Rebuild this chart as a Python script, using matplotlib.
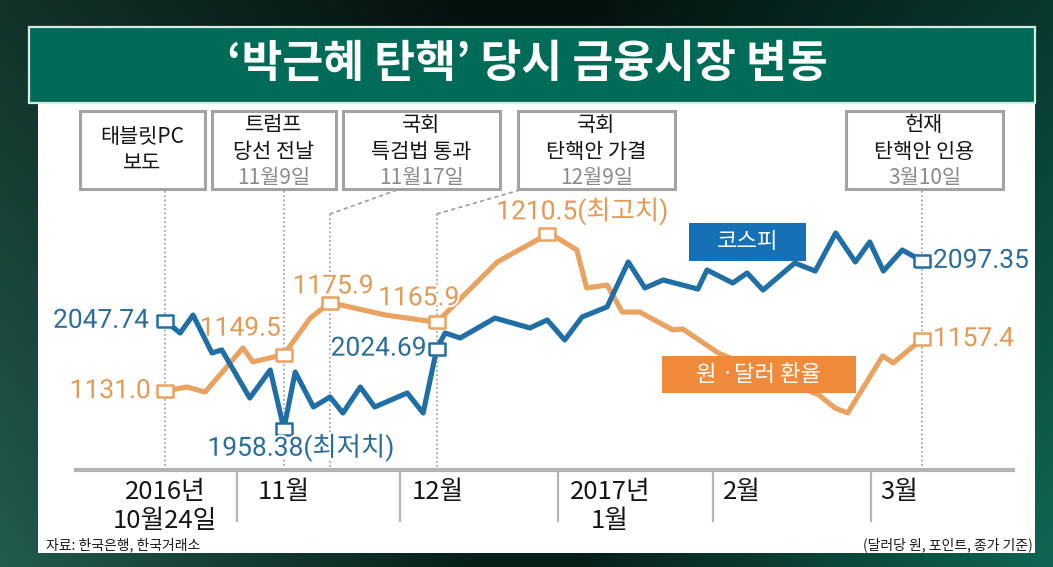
import numpy as np
import matplotlib
matplotlib.use("Agg")
import matplotlib.pyplot as plt
from matplotlib.patches import Rectangle
from matplotlib.transforms import blended_transform_factory
import matplotlib.patheffects as pe

plt.rcParams['font.family'] = ['Noto Sans CJK KR', 'DejaVu Sans']

# ---------------- data (x: position along the timeline, 0 = 2016-10-24, 100 = 2017-03-10) ----------------
kospi_x = [0, 2.0, 3.7, 6.2, 7.5, 11.2, 13.9, 15.7, 17.2, 19.6,
           21.8, 23.5, 25.8, 27.7, 32.0, 34.1, 35.9, 37.0, 39.0, 43.6,
           48.2, 50.5, 52.8, 55.1, 58.4, 61.2, 63.4, 65.8, 70.4, 71.6,
           75.0, 76.9, 79.0, 83.2, 85.9, 88.6, 91.2, 93.1, 94.9, 97.4, 100]
kospi_v = [2047.74, 2037.6, 2052.5, 2021.1, 2023.6, 1983.8, 2007.0, 1958.38, 2005.3, 1976.4,
           1984.7, 1971.4, 1992.9, 1976.4, 1988.0, 1971.4, 2024.69, 2037.6, 2033.5, 2050.0,
           2041.8, 2048.4, 2031.8, 2050.9, 2059.2, 2096.4, 2074.9, 2081.5, 2074.0, 2089.8,
           2079.0, 2087.3, 2073.2, 2095.6, 2088.9, 2120.4, 2096.4, 2113.0, 2088.9, 2106.3, 2097.35]
kospi_marks = [0, 7, 16, 40]
kospi_notes = ["", "(최저치)", "", ""]

fx_x = [0, 2.9, 5.3, 10.3, 11.6, 15.7, 19.2, 21.8, 29.1, 35.9,
        43.9, 50.5, 51.8, 54.4, 55.7, 58.4, 60.4, 62.7, 67.1, 68.4,
        73.1, 86.4, 88.5, 90.2, 94.8, 96.2, 100]
fx_v = [1131.0, 1133.1, 1130.5, 1152.9, 1145.8, 1149.5, 1168.1, 1175.9, 1169.6, 1165.9,
        1196.5, 1210.5, 1208.7, 1202.6, 1183.3, 1184.8, 1171.1, 1171.1, 1162.0, 1162.5,
        1150.3, 1129.0, 1122.4, 1119.9, 1148.8, 1145.3, 1157.4]
fx_marks = [0, 5, 7, 9, 11, 26]
fx_notes = ["", "", "", "", "(최고치)", ""]

event_x = [0, 15.7, 21.8, 35.9, 100]
event_titles = ["태블릿PC\n보도", "트럼프\n당선 전날", "국회\n특검법 통과", "국회\n탄핵안 가결", "헌재\n탄핵안 인용"]
event_dates = ["", "11월9일", "11월17일", "12월9일", "3월10일"]

month_bounds = [9.5, 31.0, 51.9, 72.4, 93.3]
month_label_x = [0, 15.7, 36.1, 58.8, 76.2, 97.0]
month_labels = ["2016년\n10월24일", "11월", "12월", "2017년\n1월", "2월", "3월"]

title = "‘박근혜 탄핵’ 당시 금융시장 변동"
source = "자료: 한국은행, 한국거래소"
unit_note = "(달러당 원, 포인트, 종가 기준)"

# ---------------- styles ----------------
W, H = 1053, 567
KOSPI_C = '#1f6ea6'
KOSPI_T = '#2a6d98'
FX_C = '#e9a25f'
FX_T = '#e29a55'
GRAY = '#a3a3a3'
NUMFONT = ['Roboto', 'Noto Sans CJK KR']

fig = plt.figure(figsize=(W / 100, H / 100), dpi=100)

# background / decoration axes in pixel coordinates
bg = fig.add_axes([0, 0, 1, 1])
bg.set_xlim(0, W)
bg.set_ylim(H, 0)
bg.axis('off')

gx = np.linspace(0, 1, 300)
gy = np.linspace(0, 1, 160)
left_c = np.array([0.13, 0.36, 0.30])
mid_c = np.array([0.03, 0.12, 0.10])
right_c = np.array([0.06, 0.40, 0.33])
wl = np.clip(1 - gx / 0.45, 0, 1)[:, None]
wr = np.clip((gx - 0.55) / 0.45, 0, 1)[:, None]
wm = 1 - wl - wr
row = wl * left_c + wm * mid_c + wr * right_c
vert = (0.55 + 0.45 * gy)[:, None, None]
img = np.clip(row[None, :, :] * vert, 0, 1)
bg.imshow(img, extent=(0, W, H, 0), aspect='auto', zorder=0, interpolation='bilinear')

bg.add_patch(Rectangle((38, 103), 997, 450, fc='white', ec='none', zorder=1))
bg.add_patch(Rectangle((29, 27), 1006, 76, fc='#006b56', ec='#d5ece2', lw=1.6, zorder=2))
bg.text(527, 64, title, color='white', fontsize=32, fontweight='heavy',
        ha='center', va='center', zorder=3)

# data axes (FX below, KOSPI on top)
ax = fig.add_axes([0, 0, 1, 1])
ax.patch.set_visible(False)
ax.axis('off')
ax.set_xlim(-21.80, 117.31)
ax.set_ylim(1041.78, 1329.36)
ax2 = ax.twinx()
ax2.patch.set_visible(False)
ax2.axis('off')
ax2.set_ylim(1843.94, 2313.25)

tr = blended_transform_factory(ax.transData, bg.transData)

# event boxes and connector lines
box_left = [80, 212, 343, 518, 846]
box_right = [205, 336, 500, 675, 1003]
conn_start = [None, None, 397, 520, None]
BOX_TOP, BOX_BOT, AXIS_Y = 111, 189, 470
for i in range(len(event_x)):
    l, r = box_left[i], box_right[i]
    bg.add_patch(Rectangle((l, BOX_TOP), r - l, BOX_BOT - BOX_TOP, fc='white',
                           ec=GRAY, lw=2.2, zorder=3))
    cx = (l + r) / 2
    lines = event_titles[i].split('\n')
    if event_dates[i]:
        ys = [125, 152]
        bg.text(cx, 178, event_dates[i], color='#8a8a8a', fontsize=15,
                ha='center', va='center', zorder=4)
    else:
        ys = [137, 163]
    for t, yy in zip(lines, ys):
        bg.text(cx, yy, t, color='#151515', fontsize=15, fontweight='medium',
                ha='center', va='center', zorder=4)
    if conn_start[i] is None:
        bg.plot([event_x[i], event_x[i]], [BOX_BOT + 2, AXIS_Y - 2], transform=tr,
                color='#9a9a9a', lw=1.2, ls=(0, (1, 1.6)), zorder=2)
    else:
        bg.plot([event_x[i], event_x[i]], [214, AXIS_Y - 2], transform=tr,
                color='#9a9a9a', lw=1.2, ls=(0, (1, 1.6)), zorder=2)
        x0 = ax.transData.inverted().transform(
            (bg.transData.transform((conn_start[i], 0))[0], 0))[0]
        bg.plot([x0, event_x[i]], [BOX_BOT + 1, 214], transform=tr,
                color='#9a9a9a', lw=1.2, ls=(0, (2.5, 2)), zorder=2)

# timeline axis
bg.plot([74, 1015], [AXIS_Y, AXIS_Y], color='#b3b3b3', lw=3, solid_capstyle='butt', zorder=2)
for mb in month_bounds:
    bg.plot([mb, mb], [AXIS_Y, 521], transform=tr, color='#b5b5b5', lw=1.6, zorder=2)
for mx, ml in zip(month_label_x, month_labels):
    for j, part in enumerate(ml.split('\n')):
        bg.text(mx, 492 + 29 * j, part, transform=tr, color='#151515', fontsize=18.5,
                fontweight='medium', ha='center', va='center', zorder=3)

bg.text(46, 545, source, color='#1a1a1a', fontsize=10, ha='left', va='center', zorder=3)
bg.text(1033, 545, unit_note, color='#1a1a1a', fontsize=10, ha='right', va='center', zorder=3)

# lines
rect_marker = [(-1.5, -1), (1.5, -1), (1.5, 1), (-1.5, 1), (-1.5, -1)]
ax.plot(fx_x, fx_v, color=FX_C, lw=3.7, solid_joinstyle='round', solid_capstyle='round', zorder=3)
ax.plot([fx_x[i] for i in fx_marks], [fx_v[i] for i in fx_marks], ls='none',
        marker=rect_marker, ms=12, mfc='white', mec=FX_C, mew=1.8, zorder=4)
ax2.plot(kospi_x, kospi_v, color=KOSPI_C, lw=3.7, solid_joinstyle='round', solid_capstyle='round', zorder=3)
ax2.plot([kospi_x[i] for i in kospi_marks], [kospi_v[i] for i in kospi_marks], ls='none',
         marker=rect_marker, ms=12, mfc='white', mec=KOSPI_C, mew=1.8, zorder=4)

halo = [pe.withStroke(linewidth=3, foreground='white')]
kospi_off = [(-16, 0, 'right'), (17, -19, 'center'), (-10, 0, 'right'), (11, 0, 'left')]
for i, note, (dx, dy, ha) in zip(kospi_marks, kospi_notes, kospi_off):
    ax2.annotate(f"{kospi_v[i]:.2f}{note}", xy=(kospi_x[i], kospi_v[i]), xytext=(dx, dy),
                 textcoords='offset pixels', ha=ha, va='center', fontsize=19,
                 color=KOSPI_T, family=NUMFONT, path_effects=halo, zorder=5)
fx_off = [(-14, 0, 'right'), (-3, 26, 'right'), (3, 16, 'center'),
          (-18, 24, 'center'), (35, 23, 'center'), (11, 0, 'left')]
for i, note, (dx, dy, ha) in zip(fx_marks, fx_notes, fx_off):
    ax.annotate(f"{fx_v[i]:.1f}{note}", xy=(fx_x[i], fx_v[i]), xytext=(dx, dy),
                textcoords='offset pixels', ha=ha, va='center', fontsize=19,
                color=FX_T, family=NUMFONT, path_effects=halo, zorder=5)

# legend-like label boxes on top
top = fig.add_axes([0, 0, 1, 1])
top.set_xlim(0, W)
top.set_ylim(H, 0)
top.axis('off')
top.patch.set_visible(False)
top.add_patch(Rectangle((689, 223), 117, 38, fc='#1570b5', ec='none'))
top.text(747.5, 242, "코스피", color='white', fontsize=16, fontweight='medium', ha='center', va='center')
top.add_patch(Rectangle((662, 356), 194, 37, fc='#f08a3b', ec='none'))
top.text(759, 374.5, "원 ·달러 환율", color='white', fontsize=16, fontweight='medium', ha='center', va='center')

fig.savefig('out.png', dpi=100)
